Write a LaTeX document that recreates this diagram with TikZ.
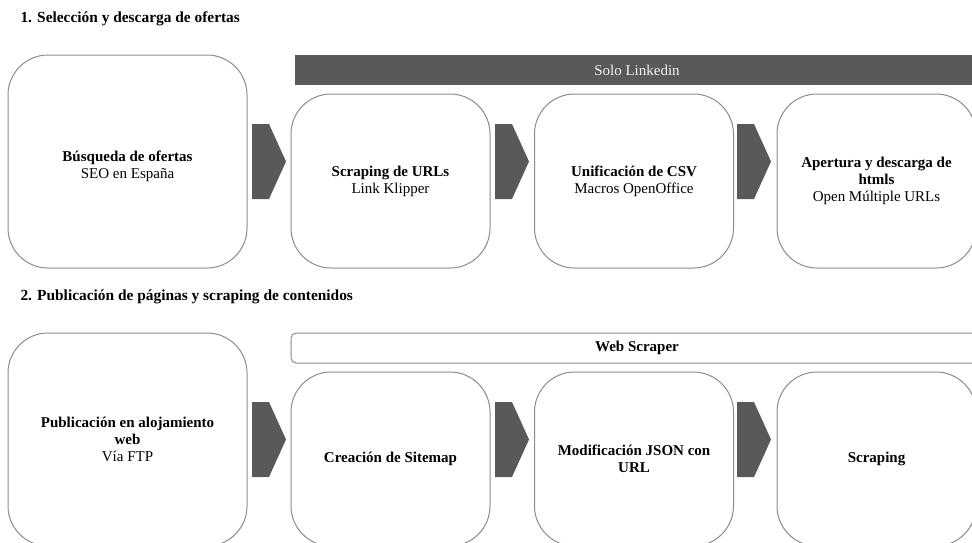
\documentclass[tikz,border=0pt]{standalone}
\usepackage{fontspec}
\setmainfont{Liberation Serif}
\usetikzlibrary{positioning}
\definecolor{bargray}{HTML}{595959}
\definecolor{linegray}{HTML}{8C8C8C}
\tikzset{
	every node/.style = {font=\fontsize{15}{17}\selectfont, align=center},
	titletext/.style = {anchor=base west, font=\fontsize{15.4}{17}\selectfont\bfseries},
	stepbox/.style = {draw=linegray, line width=1pt, rounded corners=40pt, inner sep=0pt},
	bigbox/.style = {stepbox, minimum width=239pt, minimum height=213pt},
	smallbox/.style = {stepbox, minimum width=199pt, minimum height=174pt},
	chev/.style = {fill=bargray}
}

\begin{document}
\begin{tikzpicture}[x=1pt, y=-1pt]
		\useasboundingbox (0,0) rectangle (972,542);
		\clip (0,0) rectangle (972,542);
		% titles
		\node[titletext] (tit1) at (17,22) {1. Selección y descarga de ofertas};
		\node[titletext] (tit2) at (17,300) {2. Publicación de páginas y scraping de contenidos};
		% bars
		\fill[bargray] (295,55) rectangle (985,85);
		\node[text=white!95!black] (linkedin) at (637,70) {Solo Linkedin};
		\draw[draw=linegray, line width=1pt, rounded corners=5pt] (291,333) rectangle (990,363);
		\node[font=\fontsize{15}{17}\selectfont\bfseries] (webscraper) at (637,348) {Web Scraper};
		% row 1
		\node[bigbox] (search) at (127.5,161.5) {};
		\node[yshift=-5pt] (searchtxt) at (search.center) {\textbf{Búsqueda de ofertas}\\SEO en España};
		\node[smallbox] (urls) at (390.5,181) {\textbf{Scraping de URLs}\\Link Klipper};
		\node[smallbox] (csv) at (634,181) {\textbf{Unificación de CSV}\\Macros OpenOffice};
		\node[smallbox] (htmls) at (876.5,181) {\textbf{Apertura y descarga de}\\\textbf{htmls}\\Open Múltiple URLs};
		% row 2
		\node[bigbox] (publish) at (127.5,439.5) {\textbf{Publicación en alojamiento}\\\textbf{web}\\Vía FTP};
		\node[smallbox] (sitemap) at (390.5,459) {\textbf{Creación de Sitemap}};
		\node[smallbox] (json) at (634,459) {\textbf{Modificación JSON con}\\\textbf{URL}};
		\node[smallbox] (scrape) at (876.5,459) {\textbf{Scraping}};
		% chevrons
		\foreach \x in {252, 495, 737} \foreach \y in {161.5, 439.5}
			\fill[chev] (\x,\y-37.5) -- (\x+17,\y-37.5) -- (\x+34,\y) -- (\x+17,\y+37.5) -- (\x,\y+37.5) -- cycle;
	\end{tikzpicture}
\end{document}
